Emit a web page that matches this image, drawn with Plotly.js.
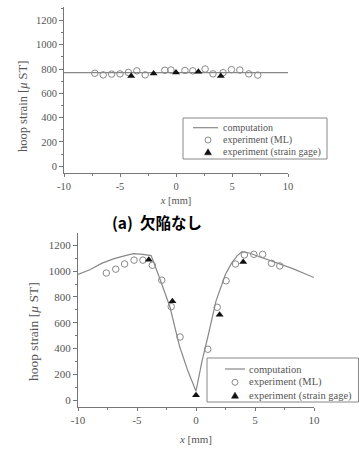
<!DOCTYPE html>
<html><head><meta charset="utf-8">
<script src="https://cdn.plot.ly/plotly-3.0.1.min.js"></script>
<style>html,body{margin:0;padding:0;background:#fff}#plot{width:359px;height:449px}</style>
</head><body><div id="plot"></div>
<script>
// Top panel (a): no defect
const topCompX = [-10, 10];
const topCompY = [770, 770];
const topMLX = [-7.25, -6.5, -5.75, -5, -4.25, -3.5, -2.75, -1.0, -0.45, 0.8, 1.5, 2.6, 3.3, 4.2, 4.95, 5.7, 6.5, 7.3];
const topMLY = [765, 752, 758, 760, 772, 785, 752, 790, 792, 788, 785, 800, 760, 770, 795, 792, 760, 750];
const topSGX = [-4, -2, 0, 2, 4];
const topSGY = [742, 764, 772, 777, 742];

// Bottom panel
const botCompX = [-10, -9, -8, -7, -6, -5.3, -4.5, -3.8, -3, -2.2, -1.4, -0.7, 0, 0.5, 1, 1.7, 2.5, 3, 3.5, 3.9, 4.5, 5.4, 6.5, 8.2, 10];
const botCompY = [975, 1010, 1060, 1095, 1120, 1135, 1130, 1120, 925, 720, 420, 230, 70, 300, 490, 770, 975, 1060, 1120, 1150, 1140, 1110, 1070, 1019, 950];
const botMLX = [-7.6, -6.8, -6.05, -5.25, -4.5, -3.7, -2.9, -2.1, -1.35, 1.0, 1.8, 2.55, 3.35, 4.1, 4.9, 5.65, 6.4, 7.1];
const botMLY = [985, 1015, 1055, 1085, 1085, 1045, 930, 725, 490, 395, 720, 925, 1055, 1125, 1130, 1130, 1060, 1040];
const botSGX = [-4, -2, 0, 2, 4];
const botSGY = [1088, 766, 39, 663, 1070];

const names = ['computation', 'experiment (ML)', 'experiment (strain gage)'];
const xTickVals = [-10, -5, 0, 5, 10];
const yTitle = 'hoop strain [<i>μ</i> ST]';
const xTitle = '<i>x</i> [mm]';
const caption = '<b>(a)  欠陥なし</b>';

const textCol = '#555';
const lineCol = '#777';
const serif = 'Liberation Serif, Times New Roman, serif';
const W = 359, H = 449;
const px = v => v / W, py = v => 1 - v / H;

function traces(cx, cy, mx, my, sx, sy, xa, ya) {
  return [
    {x: cx, y: cy, type: 'scatter', mode: 'lines', name: names[0], xaxis: xa, yaxis: ya,
     line: {color: '#888', width: 1.2}},
    {x: mx, y: my, type: 'scatter', mode: 'markers', name: names[1], xaxis: xa, yaxis: ya,
     marker: {symbol: 'circle-open', size: 6.5, color: '#888', line: {width: 1}}},
    {x: sx, y: sy, type: 'scatter', mode: 'markers', name: names[2], xaxis: xa, yaxis: ya,
     marker: {symbol: 'triangle-up', size: 7, color: '#111'}}
  ];
}

const data = [
  ...traces(topCompX, topCompY, topMLX, topMLY, topSGX, topSGY, 'x', 'y'),
  ...traces(botCompX, botCompY, botMLX, botMLY, botSGX, botSGY, 'x2', 'y2')
];

function xax(domain, anchor, fs, standoff) {
  return {domain: domain, anchor: anchor, range: [-10, 10], tickvals: xTickVals,
    ticktext: xTickVals.map(v => v < 0 ? '-' + Math.abs(v) : String(v)),
    showline: true, linecolor: lineCol, linewidth: 1, ticks: 'outside', ticklen: 3, tickcolor: lineCol,
    minor: {dtick: 2.5, ticks: 'outside', ticklen: 2, tickcolor: lineCol, showgrid: false},
    showgrid: false, zeroline: false, tickfont: {family: serif, size: fs, color: textCol},
    title: {text: xTitle, font: {family: serif, size: fs, color: textCol}, standoff: standoff}};
}
function yax(domain, anchor, range, fs) {
  return {domain: domain, anchor: anchor, range: range, dtick: 200, tick0: 0,
    showline: true, linecolor: lineCol, linewidth: 1, ticks: 'outside', ticklen: 4, tickcolor: lineCol,
    minor: {dtick: 100, ticks: 'outside', ticklen: 2, tickcolor: lineCol, showgrid: false},
    showgrid: false, zeroline: false, tickfont: {family: serif, size: fs, color: textCol}};
}

// manual legends (box, sample marks, labels)
function legend(box, lineX, markX, textX, rows, fs) {
  const shapes = [
    {type: 'rect', xref: 'paper', yref: 'paper', x0: px(box[0]), x1: px(box[2]), y0: py(box[1]), y1: py(box[3]),
     line: {color: '#888', width: 1}, fillcolor: '#fff', layer: 'above'},
    {type: 'line', xref: 'paper', yref: 'paper', x0: px(lineX[0]), x1: px(lineX[1]), y0: py(rows[0]), y1: py(rows[0]),
     line: {color: '#888', width: 1.2}},
    {type: 'circle', xref: 'paper', yref: 'paper', x0: px(markX - 3), x1: px(markX + 3), y0: py(rows[1] - 3), y1: py(rows[1] + 3),
     line: {color: '#888', width: 1}, fillcolor: 'rgba(0,0,0,0)'},
    {type: 'path', xref: 'paper', yref: 'paper',
     path: `M${px(markX)},${py(rows[2] - 3.5)} L${px(markX + 3.5)},${py(rows[2] + 2.5)} L${px(markX - 3.5)},${py(rows[2] + 2.5)} Z`,
     line: {color: '#111', width: 0.5}, fillcolor: '#111'}
  ];
  const anns = names.map((n, i) => ({text: n, xref: 'paper', yref: 'paper', x: px(textX), y: py(rows[i]),
    xanchor: 'left', yanchor: 'middle', showarrow: false, font: {family: serif, size: fs, color: textCol}}));
  return {shapes, anns};
}
const lg1 = legend([183, 118, 327, 159], [193, 218], 208, 221, [127.7, 140, 152.3], 10);
const lg2 = legend([207, 358, 358.5, 402], [225, 245], 235, 246.5, [369, 382.3, 395.7], 10.5);

const layout = {
  width: W, height: H, margin: {l: 0, r: 0, t: 0, b: 0},
  paper_bgcolor: '#fff', plot_bgcolor: '#fff', showlegend: false,
  xaxis: xax([64 / W, 288 / W], 'y', 10.5, 6),
  yaxis: yax([1 - 173 / H, 1 - 7 / H], 'x', [-55, 1310], 10.5),
  xaxis2: xax([78 / W, 314 / W], 'y2', 11, 10),
  yaxis2: yax([1 - 407 / H, 1 - 233 / H], 'x2', [-52, 1295], 11),
  shapes: [...lg1.shapes, ...lg2.shapes],
  annotations: [
    ...lg1.anns, ...lg2.anns,
    {text: yTitle, xref: 'paper', yref: 'paper', x: px(23), y: py(107), textangle: -90,
     xanchor: 'center', yanchor: 'middle', showarrow: false, font: {family: serif, size: 12.5, color: textCol}},
    {text: yTitle, xref: 'paper', yref: 'paper', x: px(33), y: py(332), textangle: -90,
     xanchor: 'center', yanchor: 'middle', showarrow: false, font: {family: serif, size: 13.5, color: textCol}},
    {text: caption, xref: 'paper', yref: 'paper', x: px(157), y: py(221.5),
     xanchor: 'center', yanchor: 'middle', showarrow: false,
     font: {family: 'Noto Sans CJK JP, sans-serif', size: 15.5, color: '#000'}}
  ]
};

Plotly.newPlot('plot', data, layout, {displayModeBar: false, staticPlot: true});
</script></body></html>
